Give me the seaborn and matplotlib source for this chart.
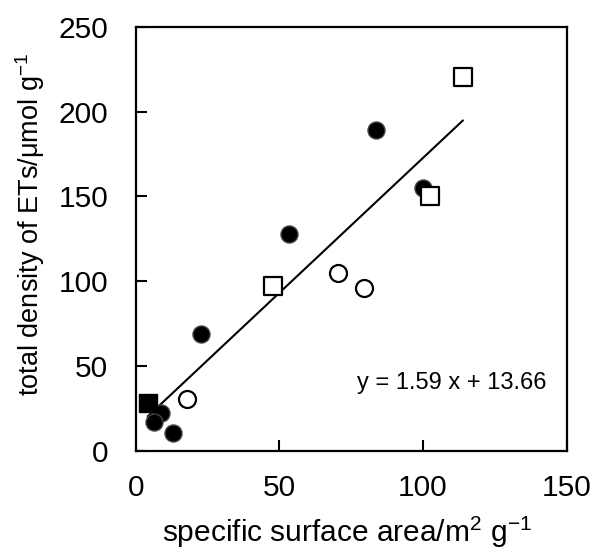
import numpy as np
import pandas as pd
import matplotlib
matplotlib.use("Agg")
import matplotlib.pyplot as plt
import seaborn as sns

# --- data ---
filled_circle_x = [83.6, 100.0, 53.3, 22.6, 8.7, 6.4, 12.8]
filled_circle_y = [189.0, 155.0, 127.7, 68.8, 22.4, 17.1, 10.6]

open_circle_x = [70.4, 79.4, 17.7]
open_circle_y = [104.8, 96.0, 30.5]

open_square_x = [113.9, 102.4, 47.7]
open_square_y = [220.3, 150.2, 97.1]

filled_square_x = [4.1]
filled_square_y = [28.3]

slope = 1.59
intercept = 13.66

sns.set_theme(style="white", rc={"text.color": "black", "axes.labelcolor": "black",
                                 "xtick.color": "black", "ytick.color": "black"})
plt.rcParams["font.family"] = ["Liberation Sans", "DejaVu Sans"]
plt.rcParams["mathtext.fontset"] = "custom"
plt.rcParams["mathtext.rm"] = "Liberation Sans"
plt.rcParams["mathtext.it"] = "Liberation Sans"

fig = plt.figure(figsize=(5.96, 5.52), dpi=100)
ax = fig.add_axes([0.228, 0.1835, 0.7226, 0.768])

# regression line over the range of x values
all_x = filled_circle_x + open_circle_x + open_square_x + filled_square_x
line_x = np.array([min(all_x), max(all_x)])
line_df = pd.DataFrame({"x": line_x, "y": slope * line_x + intercept})
sns.lineplot(data=line_df, x="x", y="y", color="black", linewidth=1.5, ax=ax, zorder=1)

ms = 150
sns.scatterplot(x=open_circle_x, y=open_circle_y, marker="o", s=ms,
                facecolor="white", edgecolor="black", linewidth=1.6, ax=ax, zorder=3)
sns.scatterplot(x=filled_circle_x, y=filled_circle_y, marker="o", s=ms,
                color="black", edgecolor="#444444", linewidth=1.0, ax=ax, zorder=3)
sns.scatterplot(x=open_square_x, y=open_square_y, marker="s", s=ms,
                facecolor="white", edgecolor="black", linewidth=1.6, ax=ax, zorder=4)
sns.scatterplot(x=filled_square_x, y=filled_square_y, marker="s", s=ms,
                color="black", edgecolor="black", linewidth=1.0, ax=ax, zorder=4)

ax.text(110, 40, f"y = {slope:.2f} x + {intercept:.2f}", fontsize=17,
        ha="center", va="center")

ax.set_xlim(0, 150)
ax.set_ylim(0, 250)
ax.set_xticks([0, 50, 100, 150])
ax.set_yticks([0, 50, 100, 150, 200, 250])
ax.tick_params(direction="in", length=8, width=1.5, labelsize=21.5,
               left=True, bottom=True)
ax.tick_params(axis="x", pad=17)
ax.tick_params(axis="y", pad=20)
for sp in ax.spines.values():
    sp.set_color("black")
    sp.set_linewidth(1.6)

ax.set_xlabel("specific surface area/m$^{2}$ g$^{-1}$", fontsize=21.5, va="center")
ax.set_ylabel("total density of ETs/\u03bcmol g$^{-1}$", fontsize=19.5, va="center")
ax.xaxis.set_label_coords(0.491, -0.192)
ax.yaxis.set_label_coords(-0.246, 0.535)

fig.savefig("out.png", dpi=100)
